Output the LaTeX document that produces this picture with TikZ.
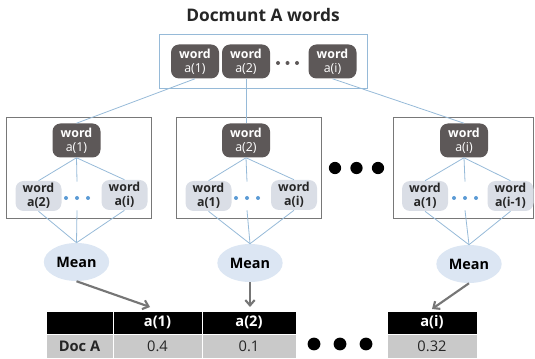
\documentclass[tikz,border=0pt]{standalone}
\usepackage{fontspec}
\setmainfont{Open Sans}
\usetikzlibrary{shapes.geometric,arrows.meta,calc}

\definecolor{linkblue}{RGB}{150,186,216}
\definecolor{framegray}{RGB}{120,120,120}
\definecolor{darkfill}{RGB}{93,88,88}
\definecolor{lightfill}{RGB}{218,222,230}
\definecolor{meanfill}{RGB}{220,230,243}
\definecolor{dotblue}{RGB}{91,155,213}
\definecolor{txt}{RGB}{38,38,38}
\definecolor{rowgray}{RGB}{201,201,201}
\definecolor{arrowgray}{RGB}{118,118,118}

\tikzset{
  wordbox/.style={rectangle, rounded corners=6pt, inner sep=0pt, align=center,
    font=\fontsize{9.3}{10.3}\selectfont},
  darkword/.style={wordbox, fill=darkfill, text=white, minimum width=36pt, minimum height=25.5pt},
  lightword/.style={wordbox, fill=lightfill, text=txt, minimum width=34.5pt, minimum height=22.5pt},
  meannode/.style={ellipse, fill=meanfill, inner sep=0pt, minimum width=49pt, minimum height=28.5pt,
    font=\bfseries\fontsize{10.8}{12}\selectfont, text=black},
  dotsnode/.style={rectangle, inner sep=0pt, minimum width=24pt, minimum height=21pt},
  link/.style={draw=linkblue, line width=0.6pt},
  frame/.style={draw=framegray, line width=0.7pt},
  outframe/.style={draw=linkblue, line width=0.7pt},
  feed/.style={draw=arrowgray, line width=1.6pt, -{Straight Barb[length=4pt,width=7pt]}},
  cell/.style={rectangle, inner sep=0pt, draw=white, line width=0.6pt,
    font=\fontsize{11}{12}\selectfont},
  headcell/.style={cell, fill=black, text=white, font=\bfseries\fontsize{11}{12}\selectfont,
    minimum height=17.25pt},
  rowcell/.style={cell, fill=rowgray, text=txt, minimum height=18pt},
}

\begin{document}
\begin{tikzpicture}[x=0.75pt,y=-0.75pt]
\useasboundingbox (0,0) rectangle (535,359);

% title
\node[font=\bfseries\fontsize{13}{15}\selectfont, text=txt] (title) at (263,15) {Docmunt A words};

% frames
\draw[outframe] (159,34) rectangle (367,88);
\draw[frame] (6,117) rectangle (151,218);
\draw[frame] (176,117) rectangle (321,218);
\draw[frame] (393,117) rectangle (533.5,218);

% top row of words
\node[darkword] (t1) at (195,61.5) {\textbf{word}\\a(1)};
\node[darkword] (t2) at (246,61.5) {\textbf{word}\\a(2)};
\node[darkword] (ti) at (332.5,61.5) {\textbf{word}\\a(i)};
\node[dotsnode] (tdots) at (287.5,63) {};
\foreach \dx in {-9.5,0,9.5}
  \fill[darkfill] ($(tdots)+(\dx,0)$) circle (1.5pt);

% left group
\node[darkword] (ld) at (76.5,140.5) {\textbf{word}\\a(1)};
\node[lightword] (la) at (38.5,196) {\textbf{word}\\\textbf{a(2)}};
\node[lightword] (lb) at (124.5,195) {\textbf{word}\\\textbf{a(i)}};
\node[dotsnode] (ldots) at (77,196) {};
\node[meannode] (lmean) at (76.5,262) {Mean};

% middle group
\node[darkword] (md) at (246,140.5) {\textbf{word}\\a(2)};
\node[lightword] (ma) at (208.5,196) {\textbf{word}\\\textbf{a(1)}};
\node[lightword] (mb) at (294,195) {\textbf{word}\\\textbf{a(i)}};
\node[dotsnode] (mdots) at (247,196) {};
\node[meannode] (mmean) at (250,263) {Mean};

% right group
\node[darkword] (rd) at (464,140.5) {\textbf{word}\\a(i)};
\node[lightword] (ra) at (425,196) {\textbf{word}\\\textbf{a(1)}};
\node[lightword] (rb) at (510.5,196) {\textbf{word}\\\textbf{a(i-1)}};
\node[dotsnode] (rdots) at (465,196) {};
\node[meannode] (rmean) at (469,264) {Mean};

% small blue dots inside the groups
\foreach \g in {ldots,mdots,rdots}
  \foreach \dx in {-11,0,11}
    \fill[dotblue] ($(\g)+(\dx,2)$) circle (1.5pt);

% links from the top row into each group
\draw[link] (t1.south) -- (ld.north);
\draw[link] (t2.south) -- (md.north);
\draw[link] (ti.south) -- (rd.north);

% links inside each group
\foreach \d/\a/\b/\s/\m in {ld/la/lb/ldots/lmean, md/ma/mb/mdots/mmean, rd/ra/rb/rdots/rmean}{
  \draw[link] (\d.south) -- (\a.north);
  \draw[link] (\d.south) -- (\b.north);
  \draw[link] (\d.south) -- (\s.north);
  \draw[link] (\a.south) -- (\m.north);
  \draw[link] (\b.south) -- (\m.north);
  \draw[link] (\s.south) -- (\m.north);
}

% large dots between the groups
\node[dotsnode] (gdots) at (356.5,168) {};
\foreach \dx in {-21.5,0,21.5}
  \fill[black] ($(gdots)+(\dx,0)$) circle (4.6pt);

% result table
\node[headcell, minimum width=50.25pt] (h0) at (79.5,322.5) {};
\node[headcell, minimum width=66.75pt] (h1) at (157.5,322.5) {a(1)};
\node[headcell, minimum width=70.5pt]  (h2) at (249,322.5) {a(2)};
\node[headcell, minimum width=67.5pt]  (hi) at (432,322.5) {a(i)};
\node[rowcell, minimum width=50.25pt, font=\bfseries\fontsize{11}{12}\selectfont] (r0) at (79.5,346) {Doc A};
\node[rowcell, minimum width=66.75pt] (r1) at (157.5,346) {0.4};
\node[rowcell, minimum width=70.5pt]  (r2) at (249,346) {0.1};
\node[rowcell, minimum width=67.5pt]  (ri) at (432,346) {0.32};

\node[dotsnode] (tbdots) at (340,344) {};
\foreach \dx in {-26,0,26}
  \fill[black] ($(tbdots)+(\dx,0)$) circle (4.8pt);

% means feeding the table
\coordinate (e1) at (150,307);
\coordinate (e2) at (250,307);
\coordinate (ei) at (432,309);
\draw[feed] (lmean.south) -- (e1);
\draw[feed] (mmean.south) -- (e2);
\draw[feed] (rmean.south) -- (ei);

\end{tikzpicture}
\end{document}
